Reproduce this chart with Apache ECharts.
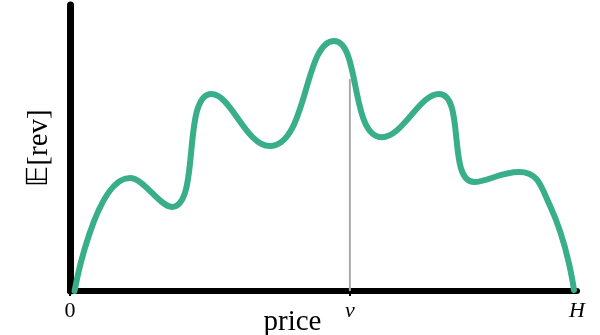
<!DOCTYPE html>
<html>
<head>
<meta charset="utf-8">
<script src="https://cdn.jsdelivr.net/npm/echarts@6/dist/echarts.min.js"></script>
<style>html,body{margin:0;padding:0;background:#fff}#c{width:600px;height:335px}</style>
</head>
<body>
<div id="c"></div>
<script>
// price (0..100, where 100 = H) and expected revenue (0..100)
var prices   = [0.9, 11.8, 20.1, 27.9, 39.4, 52.1, 61.5, 72.8, 79.7, 88.6, 94.7, 99.4];
var revenue  = [0,   39.5, 29.4, 68.9, 50.7, 87.4, 53.8, 68.9, 38.1, 41.6, 29.7, 0.3];
var vPrice = 55.2;
var vRevenue = 74.1;
var tickValues = [0, vPrice, 100];
var tickLabels = ['0', 'v', 'H'];

var curve = prices.map(function (p, i) { return [p, revenue[i]]; });
var vLine = [[vPrice, 0], [vPrice, vRevenue]];

var serif = 'Liberation Serif';
var chart = echarts.init(document.getElementById('c'), null, {renderer: 'canvas'});
chart.setOption({
  animation: false,
  grid: {left: 70, right: 23, top: 5, bottom: 44, containLabel: false, outerBoundsMode: 'none'},
  xAxis: {
    type: 'value', min: 0, max: 100,
    name: 'price', nameLocation: 'middle', nameGap: 17, nameMoveOverlap: false,
    nameTextStyle: {fontFamily: serif, fontSize: 29, color: '#000', padding: [0, 62, 0, 0]},
    axisLine: {show: true, onZero: false, lineStyle: {color: '#000', width: 6}},
    axisTick: {show: true, customValues: [0, vPrice], length: 5, lineStyle: {color: '#000', width: 2}},
    axisLabel: {
      customValues: tickValues, margin: 9, fontFamily: serif, fontSize: 22, color: '#000',
      formatter: function (val) {
        var i = tickValues.indexOf(val);
        var t = i >= 0 ? tickLabels[i] : '';
        return t === '0' ? t : '{it|' + t + '}';
      },
      rich: {it: {fontStyle: 'italic', fontFamily: serif, fontSize: 22, color: '#000'}}
    },
    splitLine: {show: false}
  },
  yAxis: {
    type: 'value', min: 0, max: 100,
    name: '𝔼[rev]', nameLocation: 'middle', nameGap: 16, nameRotate: 90, nameMoveOverlap: false,
    nameTextStyle: {fontFamily: serif, fontSize: 29, color: '#000'},
    axisLine: {show: true, onZero: false, lineStyle: {color: '#000', width: 7}},
    axisTick: {show: false},
    axisLabel: {show: false},
    splitLine: {show: false}
  },
  series: [
    {
      type: 'line', data: vLine, symbol: 'none', z: 1,
      lineStyle: {color: '#aaaaaa', width: 2}
    },
    {
      type: 'line', data: curve, smooth: 0.5, symbol: 'none', z: 3,
      lineStyle: {color: '#38ae89', width: 6, cap: 'round', join: 'round'}
    }
  ]
});
</script>
</body>
</html>
